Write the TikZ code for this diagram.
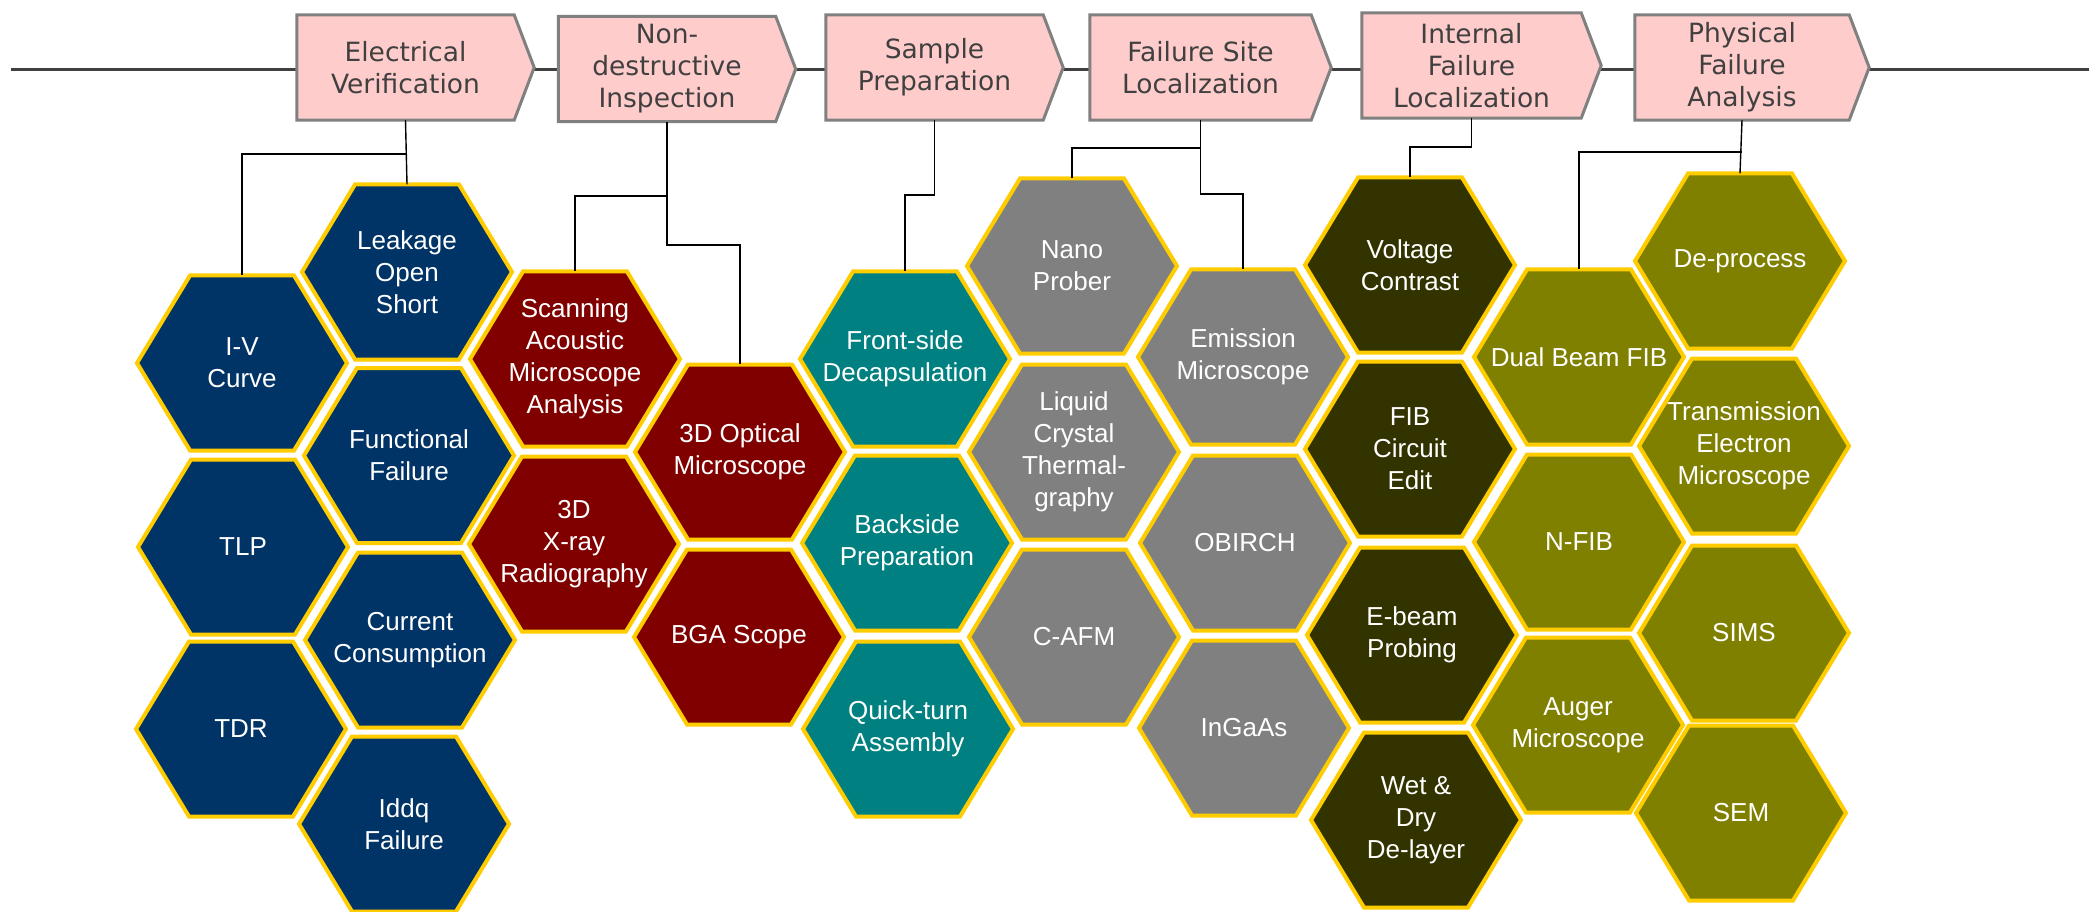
\documentclass[tikz,border=0pt]{standalone}
\usepackage{fontspec}
\setmainfont{Liberation Sans}
\newfontfamily\hdrfam{DejaVu Sans}
\usetikzlibrary{backgrounds}
\definecolor{hexblue}{HTML}{003366}
\definecolor{hexred}{HTML}{800000}
\definecolor{hexteal}{HTML}{008080}
\definecolor{hexgray}{HTML}{808080}
\definecolor{hexdark}{HTML}{333300}
\definecolor{hexolive}{HTML}{808000}
\definecolor{hexgold}{HTML}{FFCC00}
\definecolor{hdrfill}{HTML}{FFCCCC}
\definecolor{hdrline}{HTML}{808080}
\definecolor{hdrtext}{HTML}{404040}
\definecolor{axisline}{HTML}{404040}
\begin{document}
\begin{tikzpicture}[x=1pt,y=-1pt,
  hdr/.style={minimum width=217pt, minimum height=105pt, inner sep=0pt, align=center, text=hdrtext, font=\hdrfam\fontsize{26.5}{32}\selectfont},
  hdrshape/.style={fill=hdrfill, draw=hdrline, line width=3pt, line join=miter},
  hx/.style={minimum width=210pt, minimum height=175pt, inner sep=0pt, align=center, text=white, font=\fontsize{26}{32}\selectfont},
  hexshape/.style={draw=hexgold, line width=4pt, line join=miter},
  conn/.style={draw=black, line width=1.4pt},
  axis/.style={draw=axisline, line width=3pt}]
\useasboundingbox (0,0) rectangle (2089,912);

% header nodes
\node[hdr] (h1) at (405.5,67.5) {Electrical\\Verification};
\node[hdr] (h2) at (667,69) {Non-\\destructive\\Inspection};
\node[hdr] (h3) at (934.5,67.5) {Sample\\Preparation};
\node[hdr, minimum width=221pt] (h4) at (1200.5,67.5) {Failure Site\\Localization};
\node[hdr, minimum width=219pt] (h5) at (1471.5,65.5) {Internal\\Failure\\Localization};
\node[hdr, minimum width=214pt] (h6) at (1742,67.5) {Physical\\Failure\\Analysis};

\coordinate (lstart) at (11,70);
\coordinate (lend) at (2089,70);

% hexagon nodes
\node[hx] (iv) at (242,363) {I-V\\Curve};
\node[hx] (tlp) at (243,547) {TLP};
\node[hx] (tdr) at (241,729) {TDR};
\node[hx] (leak) at (407,272) {Leakage\\Open\\Short};
\node[hx] (func) at (409,455.5) {Functional\\Failure};
\node[hx] (curr) at (410,640) {Current\\Consumption};
\node[hx] (iddq) at (404,824) {Iddq\\Failure};
\node[hx] (sam) at (575,359) {Scanning\\Acoustic\\Microscope\\Analysis};
\node[hx] (xray) at (574,544) {3D\\X-ray\\Radiography};
\node[hx] (opt) at (740,452) {3D Optical\\Microscope};
\node[hx] (bga) at (739,637) {BGA Scope};
\node[hx] (front) at (905,359) {Front-side\\Decapsulation};
\node[hx] (back) at (907,543) {Backside\\Preparation};
\node[hx] (quick) at (908,729) {Quick-turn\\Assembly};
\node[hx] (nano) at (1072,266) {Nano\\Prober};
\node[hx] (lcd) at (1074,452) {Liquid\\Crystal\\Thermal-\\graphy};
\node[hx] (cafm) at (1074,637) {C-AFM};
\node[hx] (emis) at (1243,357) {Emission\\Microscope};
\node[hx] (obir) at (1245,543) {OBIRCH};
\node[hx] (inga) at (1244,728) {InGaAs};
\node[hx] (volt) at (1410,265) {Voltage\\Contrast};
\node[hx] (fibce) at (1410,449) {FIB\\Circuit\\Edit};
\node[hx] (ebeam) at (1412,635) {E-beam\\Probing};
\node[hx] (wet) at (1416,820) {Wet \&\\Dry\\De-layer};
\node[hx] (dual) at (1579,357) {Dual Beam FIB};
\node[hx] (nfib) at (1579,542) {N-FIB};
\node[hx] (auger) at (1578,725) {Auger\\Microscope};
\node[hx] (deproc) at (1740,261) {De-process};
\node[hx] (tem) at (1744,446) {Transmission\\Electron\\Microscope};
\node[hx] (sims) at (1744,633) {SIMS};
\node[hx] (sem) at (1741,813) {SEM};

\begin{scope}[on background layer]
  \draw[axis] (lstart) -- (lend);
  \foreach \n in {h1,h2,h3,h4,h5,h6}
    \filldraw[hdrshape] (\n.north west) -- (\n.north east) -- ([xshift=20pt]\n.east) -- (\n.south east) -- (\n.south west) -- cycle;
  \foreach \n/\c in {iv/hexblue, tlp/hexblue, tdr/hexblue, leak/hexblue, func/hexblue, curr/hexblue, iddq/hexblue,
                     sam/hexred, xray/hexred, opt/hexred, bga/hexred,
                     front/hexteal, back/hexteal, quick/hexteal,
                     nano/hexgray, lcd/hexgray, cafm/hexgray, emis/hexgray, obir/hexgray, inga/hexgray,
                     volt/hexdark, fibce/hexdark, ebeam/hexdark, wet/hexdark,
                     dual/hexolive, nfib/hexolive, auger/hexolive, deproc/hexolive, tem/hexolive, sims/hexolive, sem/hexolive}
    \filldraw[hexshape, fill=\c] ([xshift=-105pt]\n.center) -- ++(53,-87.5) -- ++(104,0) -- ++(53,87.5) -- ++(-53,87.5) -- ++(-104,0) -- cycle;
\end{scope}

% connectors
\draw[conn] (h1.south) -- (leak.north);
\draw[conn] (h1.south |- 0,154) -| (iv.north);
\draw[conn] (h2.south) -- (h2.south |- 0,245) -| (opt.north);
\draw[conn] (h2.south |- 0,196) -| (sam.north);
\draw[conn] (h3.south) -- (h3.south |- 0,195) -| (front.north);
\draw[conn] (h4.south) -- (h4.south |- 0,194) -| (emis.north);
\draw[conn] (h4.south |- 0,148) -| (nano.north);
\draw[conn] (h5.south) -- (h5.south |- 0,147) -| (volt.north);
\draw[conn] (h6.south) -- (deproc.north);
\draw[conn] (h6.south |- 0,152) -| (dual.north);
\end{tikzpicture}
\end{document}
